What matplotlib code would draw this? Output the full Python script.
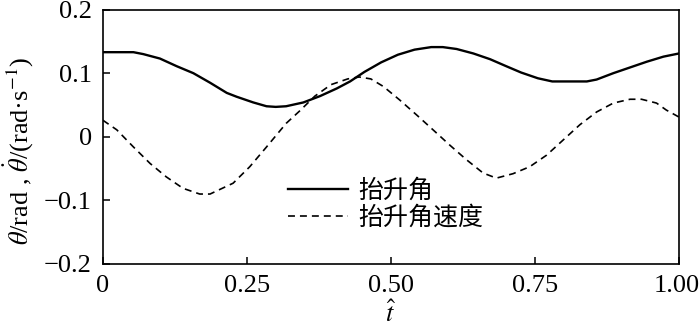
import matplotlib
matplotlib.use("Agg")
import matplotlib.pyplot as plt
import matplotlib.transforms as mtransforms

# --- data ---
t_angle = [0, 0.03, 0.053, 0.07, 0.099, 0.128, 0.157, 0.186, 0.215, 0.232, 0.261,
           0.284, 0.30, 0.318, 0.348, 0.377, 0.406, 0.429, 0.454, 0.483, 0.512,
           0.541, 0.57, 0.59, 0.614, 0.643, 0.672, 0.70, 0.726, 0.755, 0.78,
           0.81, 0.84, 0.857, 0.886, 0.915, 0.944, 0.973, 1.0]
angle = [0.133, 0.133, 0.133, 0.130, 0.123, 0.111, 0.100, 0.085, 0.069, 0.063, 0.054,
         0.048, 0.047, 0.048, 0.054, 0.064, 0.076, 0.087, 0.102, 0.117, 0.129,
         0.137, 0.141, 0.141, 0.138, 0.131, 0.122, 0.111, 0.101, 0.092, 0.087,
         0.087, 0.087, 0.090, 0.100, 0.109, 0.118, 0.126, 0.131]

t_rate = [0, 0.024, 0.053, 0.082, 0.11, 0.139, 0.168, 0.186, 0.226, 0.255, 0.284,
          0.318, 0.342, 0.368, 0.396, 0.425, 0.445, 0.465, 0.487, 0.515, 0.545,
          0.573, 0.602, 0.631, 0.66, 0.683, 0.712, 0.741, 0.77, 0.799, 0.828,
          0.857, 0.886, 0.915, 0.935, 0.961, 0.978, 1.0]
rate = [0.026, 0.011, -0.016, -0.042, -0.063, -0.081, -0.090, -0.090, -0.073, -0.047, -0.016,
        0.021, 0.041, 0.064, 0.082, 0.091, 0.094, 0.091, 0.079, 0.058, 0.034,
        0.011, -0.013, -0.036, -0.057, -0.065, -0.058, -0.047, -0.029, -0.005, 0.019,
        0.039, 0.053, 0.059, 0.059, 0.053, 0.042, 0.031]

labels = ["抬升角", "抬升角速度"]
xticks = [0, 0.25, 0.5, 0.75, 1.0]
xticklabels = ["0", "0.25", "0.50", "0.75", "1.00"]
yticks = [-0.2, -0.1, 0, 0.1, 0.2]
yticklabels = ["\u22120.2", "\u22120.1", "0", "0.1", "0.2"]

plt.rcParams["font.family"] = ["Liberation Serif", "Noto Sans CJK SC"]
plt.rcParams["mathtext.fontset"] = "stix"
plt.rcParams["lines.scale_dashes"] = False

fig = plt.figure(figsize=(7, 3.3), dpi=100)
ax = fig.add_axes([0.147, 0.2, 0.823, 0.771])

ax.plot(t_angle, angle, color="black", lw=1.7, label=labels[0])
ax.plot(t_rate, rate, color="black", lw=1.2, linestyle=(0, (5, 3.6)), label=labels[1])

ax.set_xlim(0, 1)
ax.set_ylim(-0.2, 0.2)
ax.set_xticks(xticks)
ax.set_xticklabels(xticklabels)
ax.set_yticks(yticks)
ax.set_yticklabels(yticklabels)
ax.tick_params(direction="in", length=5, width=1.1, labelsize=19, pad=8,
               top=False, right=False)
for s in ax.spines.values():
    s.set_linewidth(1.2)

# keep the last x tick label inside the canvas
last = ax.get_xticklabels()[-1]
last.set_transform(last.get_transform() + mtransforms.ScaledTranslation(-2 / 100, 0, fig.dpi_scale_trans))

ax.set_xlabel(r"$\hat{t}$", fontsize=19, labelpad=2)
ax.set_ylabel(r"$\theta$/rad , $\dot{\theta}$/(rad·s$^{-1}$)", fontsize=19)
ax.yaxis.set_label_coords(-0.118, 0.445)

leg = ax.legend(loc="center left", bbox_to_anchor=(0.321, 0.234), frameon=False,
                prop={"family": ["Liberation Serif", "Noto Sans CJK SC"], "size": 18},
                handlelength=2.4, handletextpad=0.4, labelspacing=0.15,
                borderpad=0, borderaxespad=0)

fig.savefig("out.png", dpi=100)
